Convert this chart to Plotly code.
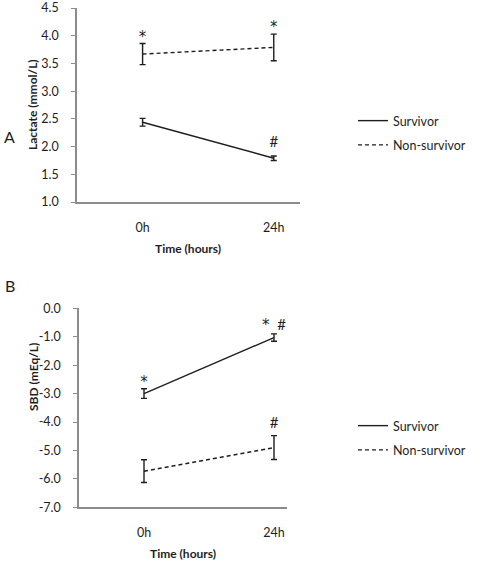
import plotly.graph_objects as go

# ---------------- data ----------------
time_labels = ["0h", "24h"]
time_pos = [0, 1]

lactate_survivor = [2.44, 1.79]
lactate_survivor_err = [0.07, 0.04]
lactate_nonsurvivor = [3.67, 3.79]
lactate_nonsurvivor_err = [0.19, 0.24]

sbd_survivor = [-3.0, -1.03]
sbd_survivor_err = [0.17, 0.13]
sbd_nonsurvivor = [-5.73, -4.9]
sbd_nonsurvivor_err = [0.40, 0.42]

lactate_ticks = [1.0, 1.5, 2.0, 2.5, 3.0, 3.5, 4.0, 4.5]
lactate_ticktext = ["1.0", "1.5", "2.0", "2.5", "3.0", "3.5", "4.0", "4.5"]
sbd_ticks = [0, -1, -2, -3, -4, -5, -6, -7]
sbd_ticktext = ["0.0", "-1.0", "-2.0", "-3.0", "-4.0", "-5.0", "-6.0", "-7.0"]

# significance marks: (x, y, text)
lactate_marks = [(0, 3.96, "*"), (1, 4.14, "*"), (1, 2.06, "#")]
sbd_marks = [(0, -2.62, "*"), (1, -0.62, "*  #"), (1, -4.07, "#")]

FONT = "Lato"
INK = "#1e1e1e"
AXIS = "#8c8c8c"

W, H = 489, 562

fig = go.Figure()


def add_series(xa, ya, y, err, name, dash, legend, showlegend=True):
    fig.add_trace(go.Scatter(
        x=time_pos, y=y, mode="lines", name=name,
        line=dict(color=INK, width=1.4, dash=dash),
        error_y=dict(type="data", array=err, visible=True, color=INK,
                     thickness=1.4, width=3),
        xaxis=xa, yaxis=ya, legend=legend, legendgroup=name + legend,
        showlegend=showlegend,
    ))


add_series("x", "y", lactate_survivor, lactate_survivor_err, "Survivor", "solid", "legend")
add_series("x", "y", lactate_nonsurvivor, lactate_nonsurvivor_err, "Non-survivor", "4px,3px", "legend")
add_series("x2", "y2", sbd_survivor, sbd_survivor_err, "Survivor", "solid", "legend2")
add_series("x2", "y2", sbd_nonsurvivor, sbd_nonsurvivor_err, "Non-survivor", "4px,3px", "legend2")


def styled(t):
    return t.replace("*", "<span style='font-family:DejaVu Sans;color:#1e1e1e'>*</span>")


for marks, xa, ya in [(lactate_marks, "x", "y"), (sbd_marks, "x2", "y2")]:
    fig.add_trace(go.Scatter(
        x=[m[0] for m in marks], y=[m[1] for m in marks],
        text=[styled(m[2]) for m in marks], mode="text",
        textfont=dict(family=FONT, size=15, color=INK),
        xaxis=xa, yaxis=ya, showlegend=False, hoverinfo="skip",
    ))

xaxis_common = dict(
    tickvals=time_pos, ticktext=time_labels, showline=True, linecolor=AXIS,
    linewidth=1.5, ticks="", showgrid=False, zeroline=False,
    tickfont=dict(family=FONT, size=12.5, color=INK), ticklabelstandoff=13,
    fixedrange=True, automargin=False,
)
yaxis_common = dict(
    showline=True, linecolor=AXIS, linewidth=1.5, ticks="outside", ticklen=4,
    tickcolor=AXIS, tickwidth=1.2, showgrid=False, zeroline=False,
    tickfont=dict(family=FONT, size=12.5, color=INK), ticklabelstandoff=10,
    fixedrange=True, automargin=False, ticklabeloverflow="allow",
)

LEG_FONT = dict(family=FONT, size=12.5, color=INK)

fig.update_layout(
    width=W, height=H,
    margin=dict(l=0, r=0, t=0, b=0, pad=0, autoexpand=False),
    paper_bgcolor="white", plot_bgcolor="white",
    font=dict(family=FONT, color=INK),
    xaxis=dict(xaxis_common, domain=[77 / W, 300 / W], range=[-0.5, 1.2], anchor="y"),
    yaxis=dict(yaxis_common, domain=[1 - 202 / H, 1 - 8 / H], range=[1.0, 4.501],
               tickvals=lactate_ticks, ticktext=lactate_ticktext, anchor="x"),
    xaxis2=dict(xaxis_common, domain=[79 / W, 287 / W], range=[-0.5, 1.1], anchor="y2"),
    yaxis2=dict(yaxis_common, domain=[1 - 507.3 / H, 1 - 308.3 / H], range=[-7.0, 0.0],
                tickvals=sbd_ticks, ticktext=sbd_ticktext, anchor="x2"),
    legend=dict(x=353 / W, y=1 - 106 / H, xanchor="left", yanchor="top",
                font=LEG_FONT, bgcolor="rgba(0,0,0,0)",
                tracegroupgap=5, traceorder="grouped"),
    legend2=dict(x=353 / W, y=1 - 411 / H, xanchor="left", yanchor="top",
                 font=LEG_FONT, bgcolor="rgba(0,0,0,0)",
                 tracegroupgap=5, traceorder="grouped"),
    showlegend=True,
)

annotations = [
    dict(text="A", x=9 / W, y=1 - 137 / H, font=dict(size=16)),
    dict(text="B", x=10 / W, y=1 - 285 / H, font=dict(size=16)),
    dict(text="<b>Time (hours)</b>", x=188 / W, y=1 - 249 / H, font=dict(size=12)),
    dict(text="<b>Time (hours)</b>", x=183 / W, y=1 - 553 / H, font=dict(size=12)),
    dict(text="<b>Lactate (mmol/L)</b>", x=32 / W, y=1 - 105 / H, textangle=-90, font=dict(size=12)),
    dict(text="<b>SBD (mEq/L)</b>", x=33 / W, y=1 - 377 / H, textangle=-90, font=dict(size=12)),
]
for a in annotations:
    a.update(xref="paper", yref="paper", showarrow=False, xanchor="center", yanchor="middle")
    a["font"].update(family=FONT, color=INK)
fig.update_layout(annotations=annotations)

fig.write_html("out.html")
